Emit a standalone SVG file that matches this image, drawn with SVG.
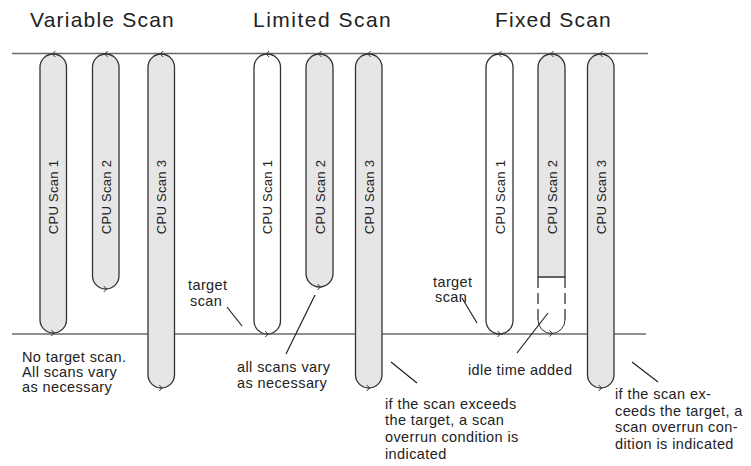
<svg xmlns="http://www.w3.org/2000/svg" width="751" height="466" viewBox="0 0 751 466">
<style>
.t{font-family:"Liberation Sans",Arial,sans-serif;fill:#222}
.title{font-size:21px;letter-spacing:1.2px}
.lab{font-size:13px;letter-spacing:0.3px}
.note{font-size:14.5px;letter-spacing:0.4px}
.pill{fill:#e6e6e6;stroke:#333;stroke-width:1.3}
.wpill{fill:#fff;stroke:#333;stroke-width:1.3}
.chev{fill:none;stroke:#333;stroke-width:1}
.ln{stroke:#222;stroke-width:1.2;fill:none}
.top{stroke:#6a6a6a;stroke-width:1.6}
.dash{fill:none;stroke:#333;stroke-width:1.3;stroke-dasharray:11 5}
</style>
<rect width="751" height="466" fill="#fff"/>
<g id="titles">
<text class="t title" x="30" y="27" textLength="145">Variable Scan</text>
<text class="t title" x="253" y="27" textLength="139">Limited Scan</text>
<text class="t title" x="495" y="27" textLength="117">Fixed Scan</text>
</g>
<g id="connectors">
<line class="top" x1="12" y1="53.5" x2="648" y2="53.5"/>
<line class="ln" x1="12" y1="334" x2="646" y2="334"/>
<line class="ln" x1="227" y1="307" x2="242" y2="326"/>
<line class="ln" x1="286" y1="354" x2="315" y2="295"/>
<line class="ln" x1="391" y1="362" x2="417" y2="383"/>
<line class="ln" x1="462" y1="298" x2="477" y2="323"/>
<line class="ln" x1="517" y1="353" x2="548" y2="313"/>
<line class="ln" x1="632" y1="362" x2="658" y2="382"/>
</g>
<g id="var-scan1">
<rect class="pill" x="40" y="54" width="26.5" height="279" rx="13.25"/>
<path class="chev" d="M55.3,51 L52.3,54 L55.3,57 M51.3,330 L54.3,333 L51.3,336"/>
<text class="t lab" transform="translate(58,197) rotate(-90)" text-anchor="middle">CPU Scan 1</text>
</g>
<g id="var-scan2">
<rect class="pill" x="92.5" y="54" width="26.5" height="235" rx="13.25"/>
<path class="chev" d="M107.7,51 L104.7,54 L107.7,57 M103.7,286 L106.7,289 L103.7,292"/>
<text class="t lab" transform="translate(110.5,197) rotate(-90)" text-anchor="middle">CPU Scan 2</text>
</g>
<g id="var-scan3">
<rect class="pill" x="148" y="54" width="26.5" height="334" rx="13.25"/>
<path class="chev" d="M163.2,51 L160.2,54 L163.2,57 M159.2,385 L162.2,388 L159.2,391"/>
<text class="t lab" transform="translate(166,197) rotate(-90)" text-anchor="middle">CPU Scan 3</text>
</g>
<g id="lim-scan1">
<rect class="wpill" x="254" y="54" width="26.5" height="280" rx="13.25"/>
<path class="chev" d="M269.2,51 L266.2,54 L269.2,57 M265.2,331 L268.2,334 L265.2,337"/>
<text class="t lab" transform="translate(272,197) rotate(-90)" text-anchor="middle">CPU Scan 1</text>
</g>
<g id="lim-scan2">
<rect class="pill" x="306" y="54" width="27" height="233" rx="13.5"/>
<path class="chev" d="M321.5,51 L318.5,54 L321.5,57 M317.5,284 L320.5,287 L317.5,290"/>
<text class="t lab" transform="translate(324.5,197) rotate(-90)" text-anchor="middle">CPU Scan 2</text>
</g>
<g id="lim-scan3">
<rect class="pill" x="355.5" y="54" width="26.5" height="334" rx="13.25"/>
<path class="chev" d="M370.7,51 L367.7,54 L370.7,57 M366.7,385 L369.7,388 L366.7,391"/>
<text class="t lab" transform="translate(373.5,197) rotate(-90)" text-anchor="middle">CPU Scan 3</text>
</g>
<g id="fix-scan1">
<rect class="wpill" x="486" y="54" width="27" height="280" rx="13.5"/>
<path class="chev" d="M501.5,51 L498.5,54 L501.5,57 M497.5,331 L500.5,334 L497.5,337"/>
<text class="t lab" transform="translate(504.5,197) rotate(-90)" text-anchor="middle">CPU Scan 1</text>
</g>
<g id="fix-scan2">
<path class="pill" d="M538,277 V67.5 A13.5,13.5 0 0 1 565,67.5 V277 Z"/>
<path class="dash" d="M538,277 V320 M565,277 V320"/>
<path class="chev" d="M538,320 A13.5,13.5 0 0 0 565,320"/>
<path class="chev" d="M553.5,51 L550.5,54 L553.5,57 M549.5,330.5 L552.5,333.5 L549.5,336.5"/>
<text class="t lab" transform="translate(556.5,197) rotate(-90)" text-anchor="middle">CPU Scan 2</text>
</g>
<g id="fix-scan3">
<rect class="pill" x="587.5" y="54" width="26.5" height="334" rx="13.25"/>
<path class="chev" d="M602.7,51 L599.7,54 L602.7,57 M598.7,385 L601.7,388 L598.7,391"/>
<text class="t lab" transform="translate(605.5,197) rotate(-90)" text-anchor="middle">CPU Scan 3</text>
</g>
<g id="notes">
<text class="t note" x="22" y="362">No target scan.</text>
<text class="t note" x="22" y="377">All scans vary</text>
<text class="t note" x="22" y="392">as necessary</text>
<text class="t note" x="188" y="290">target</text>
<text class="t note" x="190" y="306">scan</text>
<text class="t note" x="237" y="372">all scans vary</text>
<text class="t note" x="237" y="388">as necessary</text>
<text class="t note" x="385" y="409">if the scan exceeds</text>
<text class="t note" x="385" y="425">the target, a scan</text>
<text class="t note" x="385" y="442">overrun condition is</text>
<text class="t note" x="385" y="459">indicated</text>
<text class="t note" x="433" y="287">target</text>
<text class="t note" x="435" y="302">scan</text>
<text class="t note" x="468" y="375">idle time added</text>
<text class="t note" x="615" y="399">if the scan ex-</text>
<text class="t note" x="615" y="416">ceeds the target, a</text>
<text class="t note" x="615" y="432">scan overrun con-</text>
<text class="t note" x="615" y="449">dition is indicated</text>
</g>
</svg>
